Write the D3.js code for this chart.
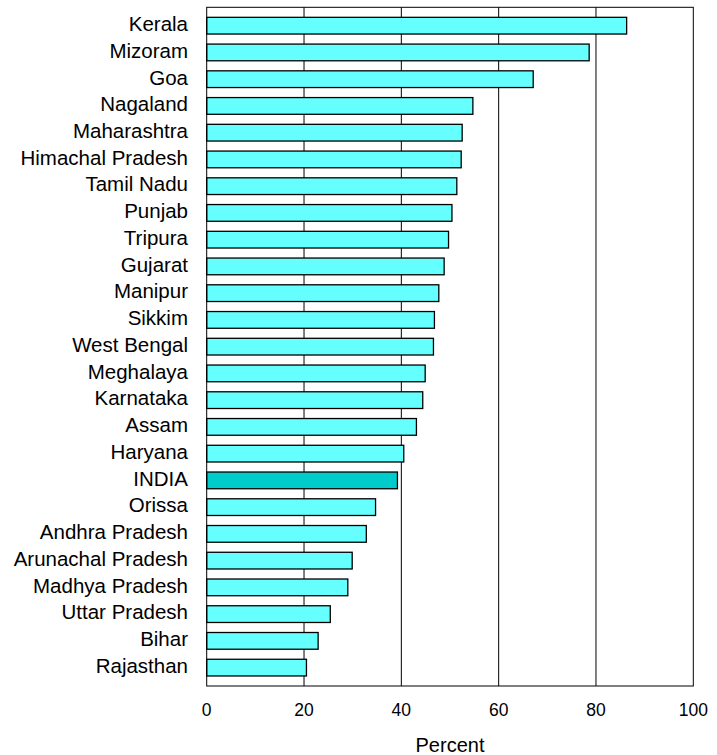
<!DOCTYPE html>
<html>
<head>
<meta charset="utf-8">
<script src="https://cdn.jsdelivr.net/npm/d3@7/dist/d3.min.js"></script>
<style>
  body { margin: 0; background: #fff; }
  text { font-family: "Liberation Sans", Arial, sans-serif; fill: #000; }
</style>
</head>
<body>
<svg id="chart"></svg>
<script>
const states = [
  "Kerala", "Mizoram", "Goa", "Nagaland", "Maharashtra", "Himachal Pradesh",
  "Tamil Nadu", "Punjab", "Tripura", "Gujarat", "Manipur", "Sikkim",
  "West Bengal", "Meghalaya", "Karnataka", "Assam", "Haryana", "INDIA",
  "Orissa", "Andhra Pradesh", "Arunachal Pradesh", "Madhya Pradesh",
  "Uttar Pradesh", "Bihar", "Rajasthan"
];
const percent = [
  86.3, 78.6, 67.1, 54.7, 52.5, 52.3,
  51.4, 50.4, 49.7, 48.8, 47.7, 46.8,
  46.6, 44.9, 44.4, 43.1, 40.5, 39.2,
  34.7, 32.8, 29.9, 29.0,
  25.4, 22.9, 20.5
];
const xTicks = [0, 20, 40, 60, 80, 100];
const highlight = "INDIA";

const width = 717, height = 755;
const plot = { left: 206.7, right: 693.3, top: 7.3, bottom: 686 };

const data = states.map((s, i) => ({ state: s, value: percent[i] }));

const svg = d3.select("#chart")
  .attr("width", width)
  .attr("height", height);

const x = d3.scaleLinear()
  .domain([0, 100])
  .range([plot.left, plot.right]);

const y = d3.scaleBand()
  .domain(states)
  .range([plot.top, plot.bottom])
  .padding(0.375);

// vertical gridlines (behind bars)
svg.append("g")
  .selectAll("line")
  .data(xTicks.slice(1, -1))
  .enter()
  .append("line")
  .attr("x1", d => x(d))
  .attr("x2", d => x(d))
  .attr("y1", plot.top)
  .attr("y2", plot.bottom)
  .attr("stroke", "#000")
  .attr("stroke-width", 1);

// bars
svg.append("g")
  .selectAll("rect")
  .data(data)
  .enter()
  .append("rect")
  .attr("x", x(0))
  .attr("y", d => y(d.state))
  .attr("width", d => x(d.value) - x(0))
  .attr("height", y.bandwidth())
  .attr("fill", d => d.state === highlight ? "#00CCCC" : "#66FFFF")
  .attr("stroke", "#000")
  .attr("stroke-width", 1.3);

// frame
svg.append("rect")
  .attr("x", plot.left)
  .attr("y", plot.top)
  .attr("width", plot.right - plot.left)
  .attr("height", plot.bottom - plot.top)
  .attr("fill", "none")
  .attr("stroke", "#000")
  .attr("stroke-width", 1);

// category labels
svg.append("g")
  .selectAll("text")
  .data(data)
  .enter()
  .append("text")
  .attr("x", 188)
  .attr("y", d => y(d.state) + y.bandwidth() / 2)
  .attr("dy", "0.26em")
  .attr("text-anchor", "end")
  .style("font-size", "20.5px")
  .text(d => d.state);

// x axis tick labels
svg.append("g")
  .selectAll("text")
  .data(xTicks)
  .enter()
  .append("text")
  .attr("x", d => x(d))
  .attr("y", 716)
  .attr("text-anchor", "middle")
  .style("font-size", "17.5px")
  .text(d => d);

svg.append("text")
  .attr("x", (plot.left + plot.right) / 2)
  .attr("y", 752)
  .attr("text-anchor", "middle")
  .style("font-size", "20px")
  .text("Percent");
</script>
</body>
</html>
